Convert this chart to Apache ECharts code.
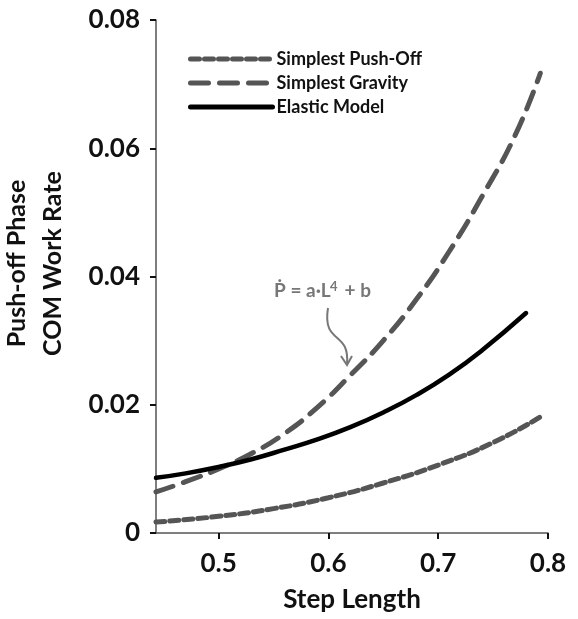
<!DOCTYPE html>
<html>
<head>
<meta charset="utf-8">
<script src="https://cdn.jsdelivr.net/npm/echarts@6/dist/echarts.min.js"></script>
<style>
  html, body { margin: 0; padding: 0; background: #fff; }
  #chart { width: 578px; height: 619px; }
</style>
</head>
<body>
<div id="chart"></div>
<script>
// Step length (x) and push-off phase COM work rate (y) for each model
const pushOffX = [0.443, 0.5, 0.55, 0.6, 0.65, 0.7, 0.75, 0.793];
const pushOffY = [0.0017, 0.0026, 0.0038, 0.0055, 0.0078, 0.0106, 0.0141, 0.0181];

const gravityX = [0.443, 0.47, 0.5, 0.53, 0.56, 0.59, 0.62, 0.65, 0.68, 0.71, 0.74, 0.77, 0.793];
const gravityY = [0.0064, 0.0080, 0.0100, 0.0124, 0.0155, 0.0196, 0.0246, 0.0300, 0.0364, 0.0439, 0.0525, 0.0620, 0.0717];

const elasticX = [0.443, 0.47, 0.5, 0.53, 0.56, 0.59, 0.62, 0.65, 0.68, 0.71, 0.74, 0.78];
const elasticY = [0.0086, 0.0093, 0.0103, 0.0115, 0.0130, 0.0146, 0.0165, 0.0188, 0.0215, 0.0247, 0.0285, 0.0343];

const xTicks = [0.5, 0.6, 0.7, 0.8];

const seriesNames = ['Simplest Push-Off', 'Simplest Gravity', 'Elastic Model'];

const pair = (xs, ys) => xs.map((x, i) => [x, ys[i]]);
const FONT = 'Lato';
const GRAY = '#555555';
const NOTE = '#777777';

const chart = echarts.init(document.getElementById('chart'), null, { renderer: 'canvas' });

chart.setOption({
  animation: false,
  backgroundColor: '#ffffff',
  grid: { left: 156, right: 30, top: 20, bottom: 86, outerBoundsMode: 'none', containLabel: false },
  legend: {
    orient: 'vertical',
    left: 183,
    top: 45,
    itemWidth: 82,
    itemHeight: 14,
    itemGap: 6,
    data: seriesNames,
    itemStyle: { opacity: 0 },
    lineStyle: { width: 5 },
    textStyle: { fontFamily: FONT, fontWeight: 'bold', fontSize: 18, color: '#111', padding: [0, 0, 0, -1] }
  },
  xAxis: {
    type: 'value',
    min: 0.443,
    max: 0.8,
    name: 'Step Length',
    nameLocation: 'middle',
    nameGap: 54,
    nameTextStyle: { fontFamily: FONT, fontWeight: 'bold', fontSize: 26, color: '#111' },
    axisLine: { show: true, lineStyle: { color: GRAY, width: 1.5 } },
    axisTick: { show: true, customValues: xTicks, length: 6, inside: false, lineStyle: { color: '#111', width: 2 } },
    axisLabel: {
      customValues: xTicks,
      margin: 18,
      fontFamily: FONT, fontWeight: 'bold', fontSize: 26, color: '#111',
      formatter: v => v.toFixed(1)
    },
    splitLine: { show: false }
  },
  yAxis: {
    type: 'value',
    min: 0,
    max: 0.08,
    interval: 0.02,
    name: 'Push-off Phase\nCOM Work Rate',
    nameLocation: 'middle',
    nameRotate: 90,
    nameGap: 85,
    nameTextStyle: {
      fontFamily: FONT, fontWeight: 'bold', fontSize: 25, color: '#111',
      lineHeight: 36, align: 'center', padding: [0, 0, 0, 26]
    },
    axisLine: { show: true, lineStyle: { color: GRAY, width: 1.5 } },
    axisTick: { show: true, length: 6, inside: false, lineStyle: { color: '#111', width: 2 } },
    axisLabel: {
      margin: 16,
      fontFamily: FONT, fontWeight: 'bold', fontSize: 26, color: '#111',
      formatter: v => (v === 0 ? '0' : v.toFixed(2))
    },
    splitLine: { show: false }
  },
  series: [
    {
      name: seriesNames[0],
      type: 'line',
      data: pair(pushOffX, pushOffY),
      smooth: 0.5,
      symbol: 'none',
      lineStyle: { color: GRAY, width: 5, type: [9, 5], cap: 'round' },
      itemStyle: { color: GRAY }
    },
    {
      name: seriesNames[1],
      type: 'line',
      data: pair(gravityX, gravityY),
      smooth: 0.5,
      symbol: 'none',
      lineStyle: { color: GRAY, width: 5, type: [18, 11], cap: 'round' },
      itemStyle: { color: GRAY }
    },
    {
      name: seriesNames[2],
      type: 'line',
      data: pair(elasticX, elasticY),
      smooth: 0.5,
      symbol: 'none',
      lineStyle: { color: '#000', width: 4.5, type: 'solid', cap: 'round' },
      itemStyle: { color: '#000' }
    }
  ],
  graphic: [
    // fitted-curve note: P-dot = a·L^4 + b
    {
      type: 'text',
      left: 274,
      top: 281,
      style: {
        text: 'Ṗ = a·L   + b',
        fontFamily: FONT, fontWeight: 'bold', fontSize: 19, fill: NOTE
      }
    },
    {
      type: 'text',
      left: 330,
      top: 280,
      style: { text: '4', fontFamily: FONT, fontWeight: 'bold', fontSize: 13, fill: NOTE }
    },
    {
      type: 'bezierCurve',
      shape: { x1: 328, y1: 308, x2: 347, y2: 364, cpx1: 322, cpy1: 345, cpx2: 350, cpy2: 330 },
      style: { stroke: NOTE, lineWidth: 2, fill: null }
    },
    {
      type: 'polyline',
      shape: { points: [[341, 356], [347, 365], [352, 356]] },
      style: { stroke: NOTE, lineWidth: 2, fill: null }
    }
  ]
});
</script>
</body>
</html>
